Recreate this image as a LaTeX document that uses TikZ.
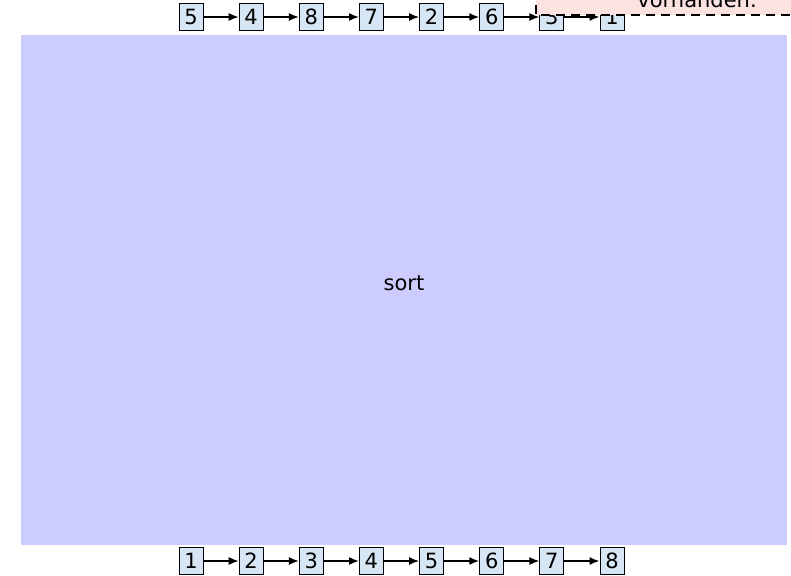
\documentclass[tikz,border=0pt]{standalone}
\usepackage{tikz}
\usetikzlibrary{arrows.meta}
\usepackage{fontspec}
\setsansfont{DejaVu Sans}

\definecolor{elemblue}{RGB}{214,230,245}
\definecolor{sortblue}{RGB}{204,204,255}
\definecolor{notepink}{RGB}{253,226,226}

\begin{document}
\begin{tikzpicture}[x=0.5pt, y=-0.5pt, font=\sffamily\fontsize{10.5}{12}\selectfont,
	elem/.style={draw, thin, fill=elemblue, minimum width=12pt, minimum height=13.5pt, inner sep=0pt},
	link/.style={thick, -{Latex[length=5pt, width=4pt]}}]
	\useasboundingbox (0,0) rectangle (791,576);

	\fill [sortblue] (21,35) rectangle (787,545);
	\node (sort) at (404,283) {sort};

	\foreach \v [count=\i] in {5,4,8,7,2,6,3,1}
		\node [elem] (in\i) at ({191+60.14*(\i-1)},17) {\v};
	\foreach \v [count=\i] in {1,...,8}
		\node [elem] (out\i) at ({191+60.14*(\i-1)},561) {\v};

	\foreach \i [count=\j from 2] in {1,...,7} {
		\draw [link] (in\i) -- (in\j);
		\draw [link] (out\i) -- (out\j);
	}

	% note, cut off at the top of the page
	\filldraw [fill=notepink, draw=black, semithick, dash pattern=on 4.5pt off 3pt] (536,-40) rectangle (800,15);
	\node (note) [anchor=base] at (697,8) {vorhanden.};
\end{tikzpicture}
\end{document}
